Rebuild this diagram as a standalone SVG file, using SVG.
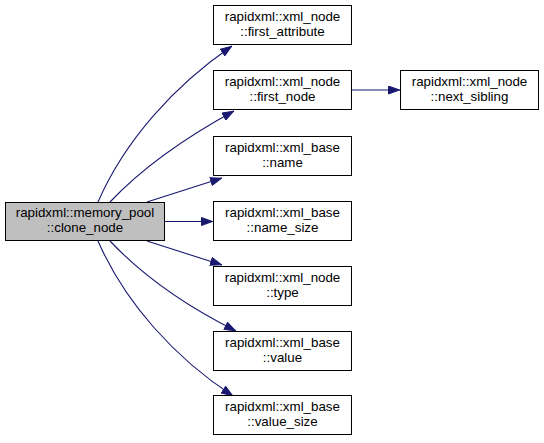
<svg xmlns="http://www.w3.org/2000/svg" width="544" height="443" viewBox="0 0 544 443">
<defs>
<style>
.box{fill:#ffffff;stroke:#000000;stroke-width:1}
.main{fill:#bfbfbf;stroke:#000000;stroke-width:1}
text{font-family:"Liberation Sans",Arial,Helvetica,sans-serif;font-size:13.33px;fill:#000000;text-anchor:middle}
.edge{fill:none;stroke:#191970;stroke-width:1.1;marker-end:url(#arrow)}
</style>
<marker id="arrow" viewBox="0 0 12 9" refX="12" refY="4.5" markerWidth="12" markerHeight="9" markerUnits="userSpaceOnUse" orient="auto">
<path d="M0.5,0.5 L11.5,4.5 L0.5,8.5 z" fill="#191970" stroke="#191970"/>
</marker>
</defs>
<rect width="544" height="443" fill="#ffffff"/>
<g id="edges">
<path class="edge" d="M98,202 C125,140 175,85 232,46"/>
<path class="edge" d="M110,202 C145,165 190,135 234,111"/>
<path class="edge" d="M147,202 L222,178"/>
<path class="edge" d="M165,221.5 L213,221.5"/>
<path class="edge" d="M147,241 L222,265"/>
<path class="edge" d="M110,241 C145,278 190,308 236,331"/>
<path class="edge" d="M98,241 C125,303 175,358 233,396"/>
<path class="edge" d="M351,90 L400,90"/>
</g>
<g id="node_clone_node">
<rect class="main" x="5.5" y="202.5" width="159" height="38"/>
<text x="85" y="217">rapidxml::memory_pool</text>
<text x="85" y="232">::clone_node</text>
</g>
<g id="node_first_attribute">
<rect class="box" x="213.5" y="5.5" width="138" height="39"/>
<text x="282.5" y="21">rapidxml::xml_node</text>
<text x="282.5" y="36">::first_attribute</text>
</g>
<g id="node_first_node">
<rect class="box" x="213.5" y="70.5" width="138" height="39"/>
<text x="282.5" y="86">rapidxml::xml_node</text>
<text x="282.5" y="101">::first_node</text>
</g>
<g id="node_next_sibling">
<rect class="box" x="400.5" y="70.5" width="138" height="39"/>
<text x="469.5" y="86">rapidxml::xml_node</text>
<text x="469.5" y="101">::next_sibling</text>
</g>
<g id="node_name">
<rect class="box" x="213.5" y="136.5" width="138" height="39"/>
<text x="282.5" y="152">rapidxml::xml_base</text>
<text x="282.5" y="167">::name</text>
</g>
<g id="node_name_size">
<rect class="box" x="213.5" y="201.5" width="138" height="39"/>
<text x="282.5" y="217">rapidxml::xml_base</text>
<text x="282.5" y="232">::name_size</text>
</g>
<g id="node_type">
<rect class="box" x="213.5" y="266.5" width="138" height="39"/>
<text x="282.5" y="282">rapidxml::xml_node</text>
<text x="282.5" y="297">::type</text>
</g>
<g id="node_value">
<rect class="box" x="213.5" y="331.5" width="138" height="39"/>
<text x="282.5" y="347">rapidxml::xml_base</text>
<text x="282.5" y="362">::value</text>
</g>
<g id="node_value_size">
<rect class="box" x="213.5" y="395.5" width="138" height="39"/>
<text x="282.5" y="411">rapidxml::xml_base</text>
<text x="282.5" y="426">::value_size</text>
</g>
</svg>
